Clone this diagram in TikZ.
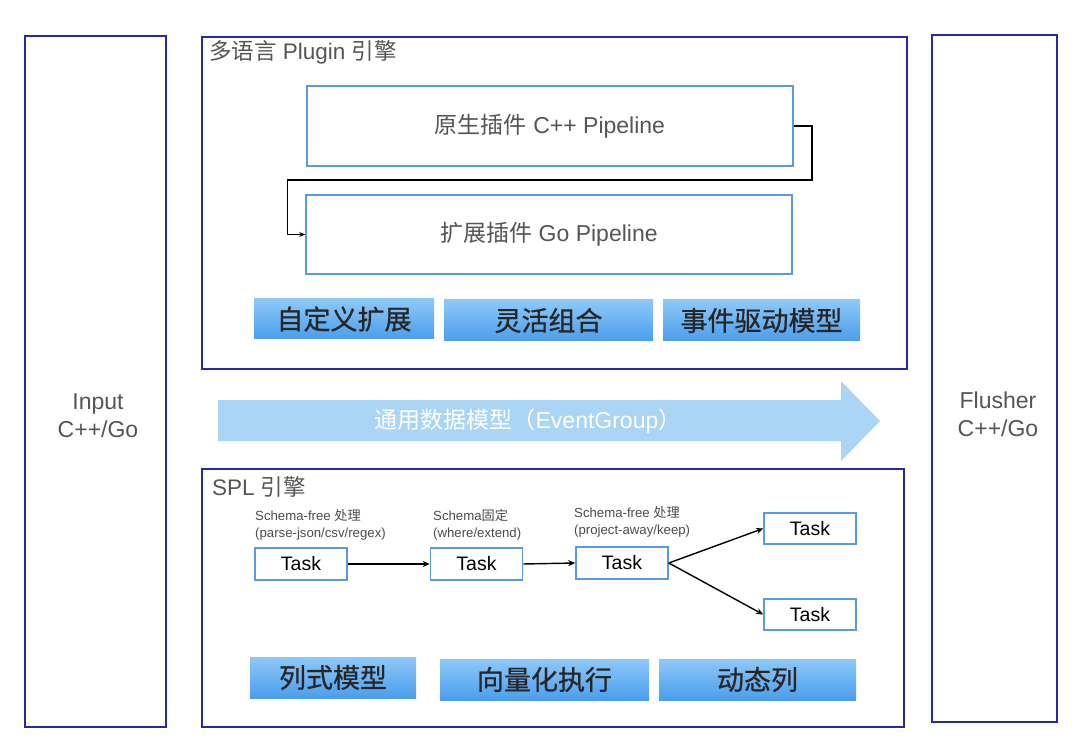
\documentclass[tikz,border=0pt]{standalone}
\usepackage{fontspec}
\setmainfont{Liberation Sans}
\newfontfamily\cjk{Noto Sans CJK SC}
\newfontfamily\cjkbar[FakeBold=0.7]{Noto Sans CJK SC}
\newcommand\zh[1]{{\cjk #1}}
\usetikzlibrary{arrows.meta}
\definecolor{darkframe}{RGB}{38,40,178}
\definecolor{lightframe}{RGB}{88,154,232}
\definecolor{bartop}{RGB}{142,200,248}
\definecolor{barbot}{RGB}{74,158,236}
\definecolor{arrowfill}{RGB}{170,213,245}
\definecolor{graytext}{RGB}{85,85,85}
\tikzset{
  outerbox/.style={draw=darkframe, line width=1.8pt, fill=white, inner sep=0pt},
  pipebox/.style={draw=lightframe, line width=1.6pt, fill=white, inner sep=0pt,
    minimum width=486pt, minimum height=80pt, text=graytext, font=\fontsize{23}{27}\selectfont},
  bar/.style={top color=bartop, bottom color=barbot, draw=none, inner sep=0pt,
    minimum height=41pt, font=\cjkbar\fontsize{27}{30}\selectfont, text=black!85},
  taskbox/.style={draw=lightframe, line width=1.6pt, fill=white, inner sep=0pt,
    minimum width=92pt, minimum height=32pt, font=\fontsize{19.5}{22}\selectfont},
  sidetext/.style={align=center, text=graytext, font=\fontsize{23}{28}\selectfont},
  titletext/.style={anchor=west, text=graytext, font=\fontsize{22.5}{26}\selectfont, inner sep=0pt},
  smalllabel/.style={anchor=north west, align=left, text=black!70, inner sep=0pt,
    font=\fontsize{13.2}{17}\selectfont},
  conn/.style={draw=black, line width=1.4pt, -{Stealth[length=7pt,width=6pt]}},
}
\begin{document}
\begin{tikzpicture}[x=1pt,y=-1pt]
\useasboundingbox (0,0) rectangle (1080,738);
\fill[white] (0,0) rectangle (1080,738);

% side boxes
\node[outerbox, minimum width=141pt, minimum height=691pt] (input) at (95.5,381.5) {};
\node[sidetext] (inputtxt) at (98,416) {Input\\C++/Go};
\node[outerbox, minimum width=125pt, minimum height=687pt] (flusher) at (994.5,378.5) {};
\node[sidetext] (flushertxt) at (998,414) {Flusher\\C++/Go};

% plugin engine
\node[outerbox, minimum width=705pt, minimum height=332pt] (plugin) at (554.5,203) {};
\node[titletext] (plugintitle) at (209,52) {\zh{多语言} Plugin \zh{引擎}};
\node[pipebox] (p1) at (550,126) {\zh{原生插件} C++ Pipeline};
\node[pipebox, minimum height=79pt] (p2) at (549,234.5) {\zh{扩展插件} Go Pipeline};
\draw[draw=black, line width=1.4pt, -{Stealth[length=6pt,width=5pt]}]
  (p1.east) -- ++(18,0) -- ++(0,54) -| ([xshift=-18pt]p2.west) -- (p2.west);

\node[bar, minimum width=180pt, minimum height=40pt] (b1) at (344,319) {自定义扩展};
\node[bar, minimum width=209pt] (b2) at (548.5,320.5) {灵活组合};
\node[bar, minimum width=197pt] (b3) at (761.5,320.5) {事件驱动模型};

% big arrow
\fill[arrowfill] (218,400) -- (841,400) -- (841,381) -- (880,421) -- (841,461) -- (841,441) -- (218,441) -- cycle;
\node[text=white, font=\fontsize{23}{26}\selectfont] (eg) at (528,421) {\zh{通用数据模型（}EventGroup\zh{）}};

% SPL engine
\node[outerbox, minimum width=702pt, minimum height=258pt] (spl) at (553,598) {};
\node[titletext] (spltitle) at (212,487) {SPL \zh{引擎}};

\node[smalllabel] (l1) at (255,509) {Schema-free \zh{处理}\\(parse-json/csv/regex)};
\node[smalllabel] (l2) at (433,509) {Schema\zh{固定}\\(where/extend)};
\node[smalllabel] (l3) at (574,506) {Schema-free \zh{处理}\\(project-away/keep)};

\node[taskbox] (t1) at (301,564) {Task};
\node[taskbox] (t2) at (476.5,564) {Task};
\node[taskbox] (t3) at (622,563) {Task};
\node[taskbox, minimum height=31pt] (t4) at (810,528.5) {Task};
\node[taskbox, minimum height=31pt] (t5) at (810,614.5) {Task};

\draw[conn] (t1.east) -- (t2.west);
\draw[conn] (t2.east) -- (t3.west);
\draw[conn] (t3.east) -- (t4.west);
\draw[conn] (t3.east) -- (t5.west);

\node[bar, minimum width=166pt] (c1) at (333,677.5) {列式模型};
\node[bar, minimum width=209pt] (c2) at (544.5,679.5) {向量化执行};
\node[bar, minimum width=197pt] (c3) at (757.5,679.5) {动态列};
\end{tikzpicture}
\end{document}
